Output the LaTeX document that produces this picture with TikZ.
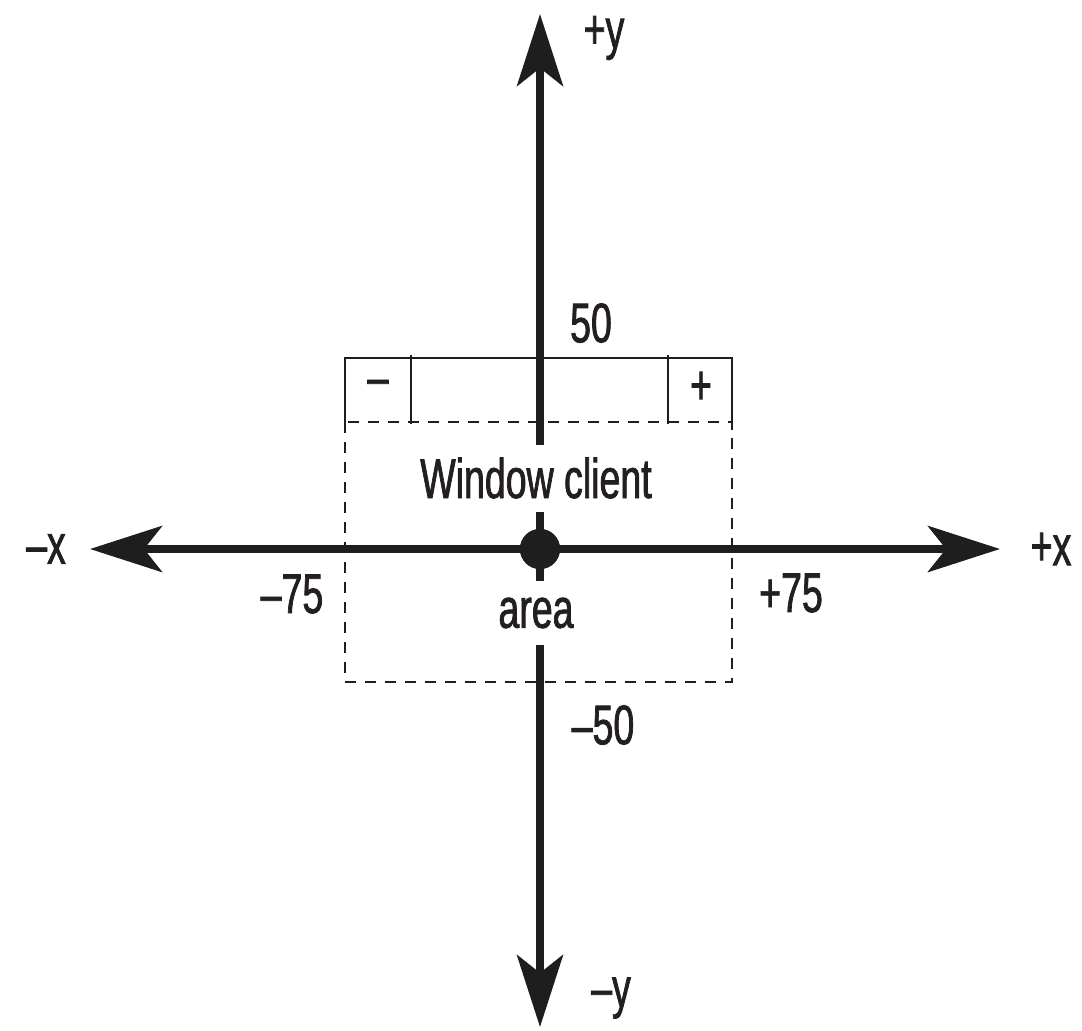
\documentclass[tikz,border=0pt]{standalone}
\usepackage{fontspec}
\setmainfont[FakeStretch=0.67,FakeBold=1.3]{Liberation Sans}
\usetikzlibrary{arrows.meta}
\definecolor{ink}{HTML}{1E1E1E}
\definecolor{txt}{HTML}{231F20}
\begin{document}
\begin{tikzpicture}[x=1pt,y=-1pt,
  axis/.style={draw=ink,line width=8pt,-{Stealth[length=72pt,width=46pt,inset=18pt]}},
  thin/.style={draw=ink,line width=2pt},
  dash box/.style={draw=ink,line width=2pt,dash pattern=on 11pt off 9pt},
  lbl/.style={text=txt,font=\fontsize{56}{64}\selectfont,inner sep=0pt},
  gaplbl/.style={lbl,fill=white,inner xsep=2pt}]
\useasboundingbox (0,0) rectangle (1082,1031);
% axis end points
\coordinate (xl) at (90,549);
\coordinate (xr) at (1000,549);
\coordinate (yt) at (540,14);
\coordinate (yb) at (540,1027);
\node[circle,fill=ink,minimum size=40pt,inner sep=0pt] (o) at (540,549) {};
% dashed client area
\draw[dash box] (345,422) rectangle (732,682);
% title bar
\draw[thin] (345,430) -- (345,358) -- (732,358) -- (732,430);
\draw[thin] (411,355) -- (411,424);
\draw[thin] (668,355) -- (668,424);
% axes
\draw[axis] (o.center) -- (xr);
\draw[axis] (o.center) -- (xl);
\draw[axis] (o.center) -- (yt);
\draw[axis] (o.center) -- (yb);
\node[circle,fill=ink,minimum size=40pt,inner sep=0pt] at (o) {};
% labels with gaps
\node[gaplbl,minimum height=67pt] (wc) at (536,478) {Window client};
\node[gaplbl,minimum height=64pt] (ar) at (536,613) {area};
\node[lbl] (minus) at (378,388) {–};
\node[lbl] (plus) at (701,388) {+};
\node[lbl] (l50) at (591,323) {50};
\node[lbl] (lm50) at (603,725) {–50};
\node[lbl] (lm75) at (292,594) {–75};
\node[lbl] (lp75) at (791,593) {+75};
\node[lbl] (lmx) at (46,549) {–x};
\node[lbl] (lpx) at (1051,549) {+x};
\node[lbl] (lpy) at (604,38) {+y};
\node[lbl] (lmy) at (611,998) {–y};
\end{tikzpicture}
\end{document}
